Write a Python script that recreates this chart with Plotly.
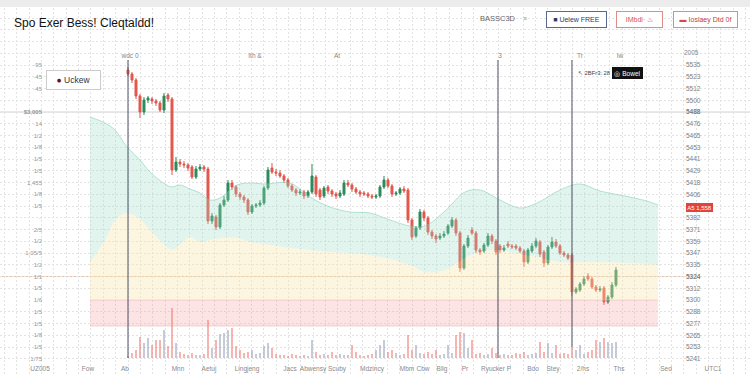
import plotly.graph_objects as go

# ---------------- data ----------------
title_text = "Spo Exer Bess! Cleqtaldd!"

candle_idx = list(range(123))
open_p = [5530, 5526, 5520, 5504, 5488, 5500, 5501, 5499, 5497, 5490, 5505, 5501, 5430,
          5438, 5436, 5435, 5433, 5423, 5431, 5433, 5431, 5379, 5383, 5373, 5395, 5400,
          5417, 5413, 5406, 5403, 5400, 5388, 5394, 5395, 5397, 5412, 5432, 5428, 5427,
          5424, 5420, 5414, 5410, 5407, 5408, 5404, 5408, 5423, 5410, 5404, 5413, 5409,
          5406, 5404, 5406, 5417, 5415, 5411, 5408, 5407, 5406, 5404, 5403, 5404, 5413,
          5420, 5414, 5406, 5407, 5411, 5410, 5380, 5364, 5372, 5388, 5382, 5368, 5364,
          5362, 5364, 5367, 5374, 5380, 5367, 5332, 5354, 5370, 5367, 5350, 5349, 5355,
          5364, 5359, 5354, 5350, 5356, 5354, 5354, 5352, 5349, 5338, 5349, 5354, 5358,
          5348, 5337, 5353, 5358, 5354, 5347, 5345, 5345, 5308, 5310, 5316, 5324, 5321,
          5313, 5310, 5312, 5298, 5303, 5315]
close_p = [5526, 5520, 5504, 5488, 5500, 5502, 5499, 5497, 5490, 5504, 5501, 5430, 5438,
           5436, 5435, 5432, 5423, 5431, 5433, 5431, 5379, 5384, 5373, 5395, 5400, 5417,
           5413, 5406, 5403, 5400, 5388, 5394, 5395, 5397, 5412, 5430, 5428, 5427, 5424,
           5420, 5414, 5410, 5407, 5408, 5404, 5408, 5424, 5406, 5403, 5412, 5409, 5406,
           5404, 5407, 5417, 5415, 5411, 5408, 5406, 5406, 5404, 5403, 5404, 5413, 5420,
           5414, 5406, 5407, 5411, 5409, 5380, 5363, 5372, 5388, 5382, 5368, 5364, 5361,
           5364, 5366, 5374, 5380, 5367, 5332, 5354, 5362, 5367, 5350, 5348, 5355, 5364,
           5359, 5348, 5350, 5352, 5354, 5353, 5352, 5349, 5338, 5350, 5354, 5359, 5346,
           5337, 5353, 5358, 5354, 5347, 5345, 5342, 5308, 5311, 5316, 5321, 5321, 5313,
           5310, 5311, 5298, 5303, 5315, 5330]
high_p = [5533, 5528, 5522, 5506, 5503, 5504, 5503, 5501, 5499, 5507, 5507, 5503, 5443,
          5441, 5439, 5437, 5435, 5434, 5436, 5435, 5433, 5387, 5385, 5397, 5404, 5420,
          5420, 5415, 5408, 5405, 5402, 5396, 5397, 5400, 5414, 5433, 5437, 5431, 5430,
          5426, 5422, 5416, 5412, 5411, 5410, 5410, 5436, 5425, 5412, 5414, 5415, 5411,
          5408, 5410, 5420, 5420, 5417, 5413, 5410, 5409, 5408, 5406, 5406, 5415, 5424,
          5422, 5416, 5409, 5413, 5414, 5412, 5382, 5374, 5391, 5390, 5384, 5370, 5366,
          5367, 5369, 5376, 5383, 5382, 5369, 5356, 5365, 5373, 5369, 5352, 5357, 5367,
          5366, 5361, 5356, 5355, 5359, 5356, 5356, 5354, 5351, 5352, 5357, 5362, 5360,
          5350, 5355, 5363, 5361, 5356, 5349, 5347, 5347, 5313, 5318, 5324, 5327, 5323,
          5315, 5314, 5314, 5305, 5318, 5333]
low_p = [5524, 5517, 5501, 5482, 5485, 5497, 5496, 5494, 5488, 5487, 5498, 5425, 5428,
         5433, 5432, 5429, 5421, 5421, 5429, 5428, 5376, 5376, 5370, 5371, 5393, 5398,
         5410, 5403, 5400, 5397, 5385, 5386, 5392, 5393, 5395, 5410, 5426, 5424, 5422,
         5417, 5412, 5408, 5404, 5405, 5401, 5402, 5406, 5403, 5400, 5402, 5406, 5403,
         5401, 5402, 5404, 5413, 5408, 5406, 5403, 5404, 5402, 5401, 5401, 5402, 5411,
         5412, 5403, 5404, 5405, 5407, 5377, 5360, 5362, 5370, 5379, 5365, 5361, 5357,
         5360, 5362, 5365, 5372, 5364, 5328, 5330, 5352, 5365, 5347, 5345, 5347, 5353,
         5356, 5345, 5347, 5348, 5352, 5351, 5350, 5347, 5333, 5336, 5347, 5352, 5343,
         5333, 5335, 5351, 5352, 5345, 5343, 5340, 5304, 5306, 5308, 5314, 5319, 5311,
         5308, 5308, 5295, 5296, 5301, 5313]
volume_k = [2, 5, 8, 21, 15, 20, 13, 18, 18, 28, 12, 50, 15,
            6, 4, 3, 5, 3, 3, 4, 38, 10, 18, 24, 25, 28,
            30, 12, 8, 5, 6, 8, 4, 5, 12, 15, 10, 4, 3,
            3, 2, 4, 3, 2, 3, 2, 18, 6, 3, 4, 3, 6,
            3, 4, 3, 3, 13, 6, 3, 2, 3, 4, 8, 13, 18,
            6, 8, 5, 3, 4, 23, 8, 13, 5, 4, 6, 4, 8,
            3, 4, 13, 5, 23, 26, 25, 10, 18, 4, 5, 3, 4,
            10, 5, 3, 4, 3, 3, 5, 4, 6, 3, 4, 5, 16,
            6, 15, 5, 13, 4, 5, 4, 11, 8, 13, 4, 6, 8,
            18, 16, 20, 16, 15, 16]

band_x = [-9.5, -5.75, -3.25, -0.25, 3, 5.5, 9.25, 11, 13, 15.5, 18, 20.5, 23, 27.25,
          30.5, 34.25, 40.5, 45.5, 50.5, 55.5, 60.5, 65.5, 70.5, 74.25, 79.25, 84.25,
          88, 93, 98, 102.25, 108, 113, 118, 125.5, 130.5, 132.5]
green_top = [5483, 5477, 5470, 5453, 5440, 5428, 5416, 5413, 5415, 5411, 5407, 5400,
             5402, 5415, 5417, 5416, 5417, 5403, 5393, 5388, 5387, 5380, 5374, 5374,
             5389, 5408, 5410, 5400, 5392, 5397, 5410, 5416, 5409, 5403, 5398, 5395]
yellow_top = [5338, 5360, 5380, 5387, 5381, 5370, 5355, 5350, 5355, 5363, 5358, 5360,
              5362, 5362, 5358, 5356, 5352, 5350, 5348, 5347, 5345, 5341, 5335, 5328,
              5330, 5342, 5348, 5350, 5346, 5343, 5338, 5338, 5338, 5337, 5336, 5335]
yellow_floor = 5300
pink_floor = 5274

key_level = 5488
last_level = 5323.5
event_idx = [0, 92.5, 111]
event_bottom_px = [358, 358, 347]

price_ticks = [5535, 5523.25, 5511.5, 5499.75, 5488, 5476.25, 5464.5, 5452.75, 5441,
               5429.25, 5417.5, 5405.75, 5394, 5382.25, 5370.5, 5358.75, 5347, 5335.25,
               5323.5, 5311.75, 5300, 5288.25, 5276.5, 5264.75, 5253, 5241.25]
right_labels = ["5535", "5523", "5512", "5500", "<b>5488</b>", "5476", "5465", "5453",
                "5441", "5429", "5418", "5406", "", "5382", "5371", "5359", "5347",
                "5335", "<b>5324</b>", "5312", "5300", "5288", "5277", "5265", "5253", "5241"]
left_labels = ["·95", "·45", "·45", "", "<b>$3,005</b>", "·14", "1/2", "1/8", "1/5", "1/5",
               "1,455", "1/8", "1/5", "··", "2/5", "1/2", "1,05/5", "1/2", "1/1", "1/5",
               "1/6", "1/5", "1/5", "1/8", "1/5", "1/75"]
top_tick_idx = [0.5, 31.75, 52.25, 93, 113, 123]
top_tick_text = ["wdc 0", "Ith &", "At", "3", "Tr", "Iw"]
bottom_tick_px = [40, 88, 125, 178, 209, 247, 290, 313, 337, 372, 407, 423, 442, 465,
                  496, 533, 553, 583, 619, 666, 713]
bottom_tick_text = ["UZ005", "Fow", "Ab", "Mnn", "Aetuj", "Lingjeng", "Jacs", "Abwensy",
                    "Scuby", "Mdzincy", "Mbm", "Cbw", "Bllg", "Pr", "Ryucker P", "Bdo",
                    "Stey", "2/hs", "Ths", "Sed", "UTC1"]

# ---------------- figure ----------------
W, H = 750, 375
FONT = "Liberation Sans, Arial, sans-serif"
GRID = "#e3e3e3"


def fx(px):
    return px / W


def fy(py):
    return 1 - py / H


fig = go.Figure()

# background grid subplot (no marks)
fig.add_trace(go.Scatter(x=[None], y=[None], xaxis="x", yaxis="y",
                         showlegend=False, hoverinfo="skip"))

# bands
fig.add_trace(go.Scatter(x=band_x, y=[pink_floor] * len(band_x), xaxis="x2", yaxis="y2",
                         mode="lines", line=dict(color="rgba(235,160,160,0.45)", width=1),
                         showlegend=False, hoverinfo="skip"))
fig.add_trace(go.Scatter(x=band_x, y=[yellow_floor] * len(band_x), xaxis="x2", yaxis="y2",
                         mode="lines", line=dict(color="rgba(235,160,160,0.45)", width=1),
                         fill="tonexty", fillcolor="rgba(242,150,150,0.26)",
                         showlegend=False, hoverinfo="skip"))
fig.add_trace(go.Scatter(x=band_x, y=[yellow_floor] * len(band_x), xaxis="x2", yaxis="y2",
                         mode="lines", line=dict(width=0),
                         showlegend=False, hoverinfo="skip"))
fig.add_trace(go.Scatter(x=band_x, y=yellow_top, xaxis="x2", yaxis="y2",
                         mode="lines", line=dict(width=0, color="rgba(0,0,0,0)", shape="spline"),
                         fill="tonexty", fillcolor="rgba(248,228,170,0.36)",
                         showlegend=False, hoverinfo="skip"))
fig.add_trace(go.Scatter(x=band_x, y=green_top, xaxis="x2", yaxis="y2",
                         mode="lines", line=dict(color="rgba(120,200,175,0.5)", width=1,
                                                 shape="spline"),
                         fill="tonexty", fillcolor="rgba(160,220,200,0.30)",
                         showlegend=False, hoverinfo="skip"))

# candles
fig.add_trace(go.Candlestick(
    x=candle_idx, open=open_p, high=high_p, low=low_p, close=close_p,
    xaxis="x2", yaxis="y2",
    increasing=dict(line=dict(color="#2c8a5a", width=1), fillcolor="#2c8a5a"),
    decreasing=dict(line=dict(color="#e2574d", width=1), fillcolor="#e2574d"),
    whiskerwidth=0, showlegend=False, hoverinfo="skip"))

# volume
vol_colors = ["rgba(150,160,182,0.55)" if c >= o else "rgba(236,120,115,0.55)"
              for o, c in zip(open_p, close_p)]
fig.add_trace(go.Bar(x=candle_idx, y=volume_k, xaxis="x2", yaxis="y3",
                     marker=dict(color=vol_colors, line=dict(width=0)), width=0.55,
                     showlegend=False, hoverinfo="skip"))

# left label axis holder
fig.add_trace(go.Scatter(x=[None], y=[None], xaxis="x2", yaxis="y4",
                         showlegend=False, hoverinfo="skip"))

shapes = []
shapes.append(dict(type="rect", xref="paper", yref="paper", x0=0, x1=1,
                   y0=fy(7), y1=1, fillcolor="#ececec", line=dict(width=0), layer="above"))
shapes.append(dict(type="line", xref="paper", yref="y2", x0=0, x1=1,
                   y0=key_level, y1=key_level, line=dict(color="#d2d2d2", width=1),
                   layer="below"))
shapes.append(dict(type="line", xref="paper", yref="y2", x0=0, x1=0.9133,
                   y0=last_level, y1=last_level,
                   line=dict(color="rgba(225,170,130,0.7)", width=1), layer="below"))
for ex, eb in zip(event_idx, event_bottom_px):
    shapes.append(dict(type="line", xref="x2", yref="paper", x0=ex, x1=ex,
                       y0=fy(eb), y1=fy(60), line=dict(color="#4d5266", width=1)))


def ann(**kw):
    d = dict(xref="paper", yref="paper", showarrow=False)
    d.update(kw)
    return d


annotations = [
    ann(text=title_text, x=fx(12), y=fy(23), xanchor="left", yanchor="middle",
        font=dict(size=12, color="#111111", family=FONT)),
    ann(text="BASSC3D", x=fx(498), y=fy(19), xanchor="center", yanchor="middle",
        font=dict(size=7.5, color="#666666", family=FONT)),
    ann(text="≡", x=fx(525), y=fy(19), xanchor="center", yanchor="middle",
        font=dict(size=7, color="#999999", family=FONT)),
    ann(text="■ Uelew FREE", x=fx(576), y=fy(19.5), xanchor="center", yanchor="middle",
        width=55, height=11, borderpad=2, borderwidth=1, bordercolor="#5a6790",
        bgcolor="white", font=dict(size=7, color="#2b3a67", family=FONT)),
    ann(text="IMbdl· ♨", x=fx(639.5), y=fy(19.5), xanchor="center", yanchor="middle",
        width=41, height=11, borderpad=2, borderwidth=1, bordercolor="#e08b88",
        bgcolor="white", font=dict(size=7, color="#d9534f", family=FONT)),
    ann(text="<span style='color:#e0443c'>▬</span> Ioslaey Dtd 0f", x=fx(705.5),
        y=fy(19.5), xanchor="center", yanchor="middle",
        width=59, height=11, borderpad=2, borderwidth=1, bordercolor="#e08b88",
        bgcolor="white", font=dict(size=7, color="#c0403a", family=FONT)),
    ann(text="<span style='color:#6b1111'>●</span> Uckew", x=fx(73), y=fy(80),
        xanchor="center", yanchor="middle", width=49, height=14, borderpad=2,
        borderwidth=1, bordercolor="#cccccc", bgcolor="white",
        font=dict(size=8.5, color="#333333", family=FONT)),
    ann(text="2005", x=fx(691), y=fy(53), xanchor="center", yanchor="middle",
        font=dict(size=6.5, color="#888888", family=FONT)),
    ann(text="↖ 2BFr3: 28", x=fx(576), y=fy(73), xanchor="left", yanchor="middle",
        font=dict(size=5.8, color="#444444", family=FONT)),
    ann(text="◎ Bowel", x=fx(627), y=fy(73), xanchor="center", yanchor="middle",
        width=27, height=8, borderpad=1, borderwidth=1, bordercolor="#111111",
        bgcolor="#111111", font=dict(size=6.5, color="white", family=FONT)),
    ann(text="A5 1,558", x=fx(686), y=fy(207), xanchor="left", yanchor="middle",
        width=25, height=7, borderpad=1, borderwidth=0, bgcolor="#e0443c",
        font=dict(size=6, color="white", family=FONT)),
]

fig.update_layout(
    template="none",
    width=W, height=H,
    margin=dict(l=0, r=0, t=0, b=0, pad=0),
    paper_bgcolor="white",
    plot_bgcolor="rgba(0,0,0,0)",
    showlegend=False,
    font=dict(family=FONT, size=7, color="#888888"),
    bargap=0,
    xaxis=dict(domain=[0, 1], range=[0, W], anchor="y", automargin=False,
               showgrid=False, zeroline=False, showline=False, ticks="",
               tickmode="array", tickvals=bottom_tick_px, ticktext=bottom_tick_text,
               tickangle=0, ticklabelposition="inside",
               tickfont=dict(size=6.5, color="#8a8a8a"),
               minor=dict(tick0=4.5, dtick=12.35, showgrid=True, gridcolor=GRID,
                          griddash="2px,2px", gridwidth=1, ticks=""),
               fixedrange=True),
    yaxis=dict(domain=[0, 1], range=[H, 0], anchor="x", automargin=False,
               showgrid=False, zeroline=False, showline=False, ticks="",
               showticklabels=False,
               minor=dict(tick0=6.25, dtick=11.75, showgrid=True, gridcolor=GRID,
                          griddash="2px,2px", gridwidth=1, ticks=""),
               fixedrange=True),
    xaxis2=dict(domain=[0, 0.9133], range=[-32, 139.25], anchor="y2", side="top",
                automargin=False, showgrid=False, zeroline=False, showline=False,
                ticks="", tickmode="array", tickvals=top_tick_idx, ticktext=top_tick_text,
                tickangle=0, tickfont=dict(size=6.5, color="#888888"),
                rangeslider=dict(visible=False), fixedrange=True),
    yaxis2=dict(domain=[0, 0.84], range=[5225, 5540], anchor="x2", side="right",
                automargin=False, showgrid=False, zeroline=False, showline=False,
                ticks="", tickmode="array", tickvals=price_ticks, ticktext=right_labels,
                tickfont=dict(size=6.5, color="#808080"), fixedrange=True),
    yaxis3=dict(overlaying="y2", range=[-17, 298], visible=False, fixedrange=True),
    yaxis4=dict(overlaying="y2", anchor="free", position=0.056, side="left",
                range=[5225, 5540], automargin=False, showgrid=False, zeroline=False,
                showline=False, ticks="", tickmode="array", tickvals=price_ticks,
                ticktext=left_labels, tickfont=dict(size=6, color="#999999"),
                fixedrange=True),
    shapes=shapes,
    annotations=annotations,
)

fig.write_html("out.html")
